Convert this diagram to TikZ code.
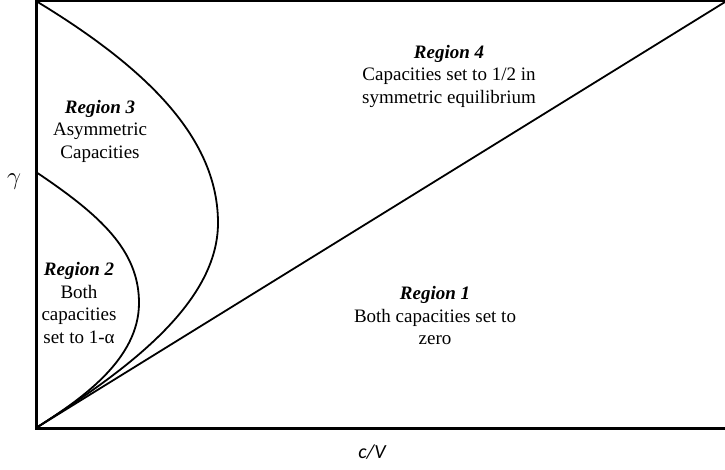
\documentclass[tikz,border=0pt]{standalone}
\usepackage{fontspec}
\setmainfont{Liberation Serif}
\newfontfamily\calfont{Carlito}
\tikzset{
  axis/.style={line width=3pt, line cap=rect},
  border/.style={line width=2pt},
  curve/.style={line width=1.8pt},
  lbl/.style={align=center, font=\fontsize{19}{22.5}\selectfont, inner sep=0pt}
}
\newcommand{\rg}[1]{\textbf{\textit{#1}}}
\begin{document}
\begin{tikzpicture}[x=1pt,y=-1pt]
\useasboundingbox (0,0) rectangle (725,470);
\coordinate (O) at (36,428);
\coordinate (TL) at (36,1);
\coordinate (TR) at (725,1);
\coordinate (BR) at (725,428);
\coordinate (G) at (36,172);
\draw[border] (TL) -- (TR);
\draw[axis] (TL) -- (O) -- (BR);
\draw[curve] (O) -- (725,2);
\draw[curve] (G) .. controls (100,215) and (139,250) .. (139,303) .. controls (139,360) and (80,400) .. (O);
\draw[curve] (TL) .. controls (150,70) and (218,140) .. (218,223) .. controls (218,310) and (110,380) .. (O);
\node[lbl] (r3) at (100,131) {\rg{Region 3}\\Asymmetric\\Capacities};
\node[lbl] (r2) at (79,303) {\rg{Region 2}\\Both\\capacities\\set to 1-α};
\node[lbl] (r4) at (449,76) {\rg{Region 4}\\Capacities set to 1/2 in\\symmetric equilibrium};
\node[lbl] (r1) at (435,316) {\rg{Region 1}\\Both capacities set to\\zero};
\node[inner sep=0pt] (gl) at (14,182) {\fontsize{24}{24}\selectfont$\gamma$};
\node[inner sep=0pt] (cv) at (372,452) {\calfont\itshape\fontsize{20}{20}\selectfont c/V};
\end{tikzpicture}
\end{document}
